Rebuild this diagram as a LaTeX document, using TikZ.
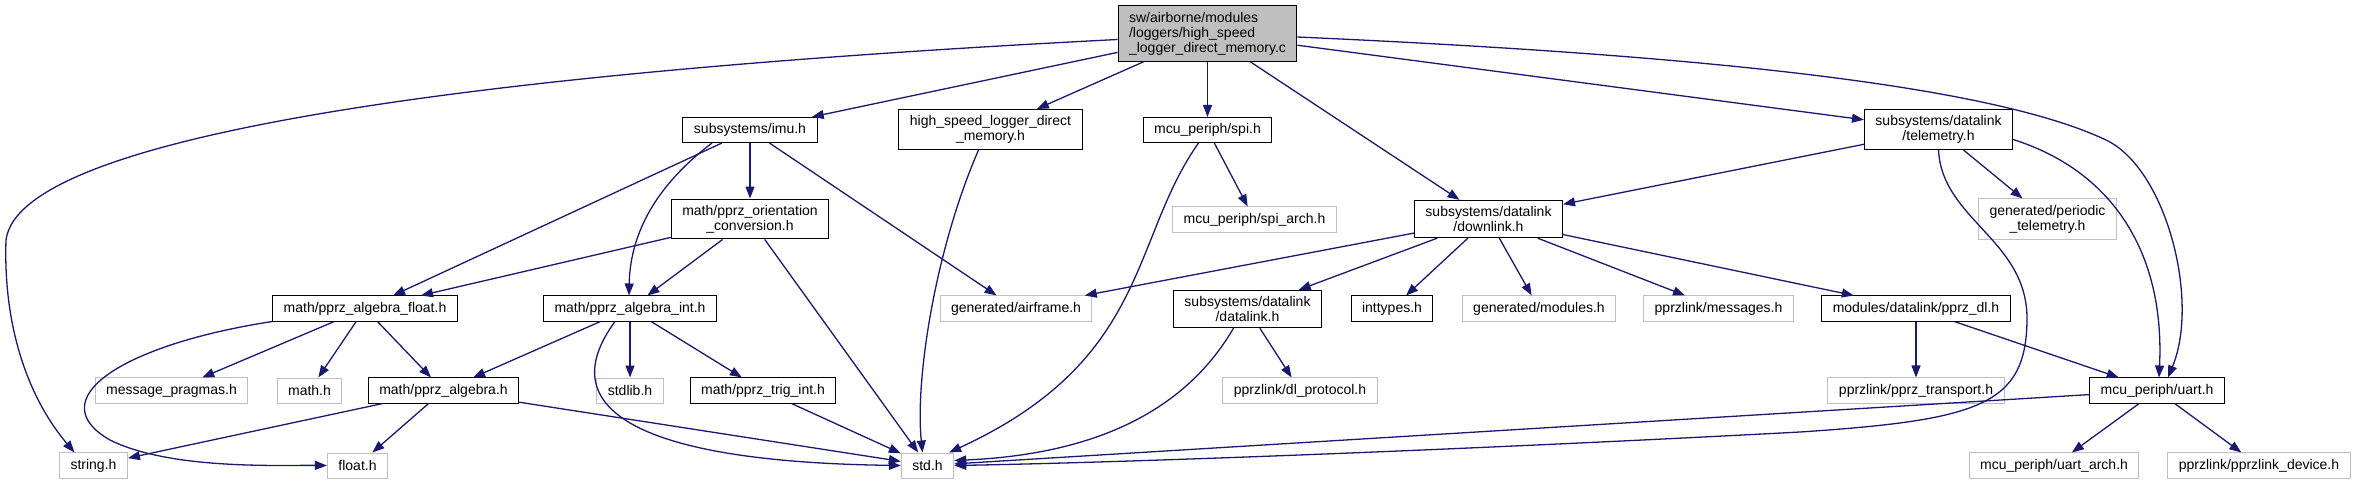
\documentclass[tikz,border=0pt]{standalone}
\usepackage{fontspec}
\setmainfont{Liberation Sans}
\usetikzlibrary{arrows.meta}
\definecolor{edgeblue}{HTML}{191970}
\definecolor{greyline}{HTML}{BFBFBF}
\begin{document}
\begin{tikzpicture}[x=1pt,y=-1pt,
  docbox/.style={draw=black,fill=white,line width=1pt,inner xsep=11pt,inner ysep=6pt,
    minimum height=25pt,align=center,font=\fontsize{14}{15}\selectfont},
  extbox/.style={docbox,draw=greyline},
  rootbox/.style={docbox,fill=greyline,align=left},
  dep/.style={draw=edgeblue,line width=1.3pt,-{Triangle[length=12pt,width=9pt]}}]
\useasboundingbox (0,0) rectangle (2356,484);
\node[rootbox] (root) at (1207.5,33.5) {sw/airborne/modules\\/loggers/high\_speed\\\_logger\_direct\_memory.c};
\node[docbox] (imu) at (750,130) {subsystems/imu.h};
\node[docbox] (hs) at (990.5,129.5) {high\_speed\_logger\_direct\\\_memory.h};
\node[docbox] (spi) at (1207.5,130) {mcu\_periph/spi.h};
\node[docbox] (tele) at (1938.5,129.5) {subsystems/datalink\\/telemetry.h};
\node[docbox] (orient) at (750,219) {math/pprz\_orientation\\\_conversion.h};
\node[extbox] (spiarch) at (1254.5,219.5) {mcu\_periph/spi\_arch.h};
\node[docbox] (downlink) at (1488.5,219) {subsystems/datalink\\/downlink.h};
\node[extbox] (periodic) at (2047.5,219) {generated/periodic\\\_telemetry.h};
\node[docbox] (algfloat) at (365,308.5) {math/pprz\_algebra\_float.h};
\node[docbox] (algint) at (630,308.5) {math/pprz\_algebra\_int.h};
\node[extbox] (airframe) at (1016,308.5) {generated/airframe.h};
\node[docbox] (datalink) at (1247.5,309) {subsystems/datalink\\/datalink.h};
\node[docbox] (inttypes) at (1392,308.5) {inttypes.h};
\node[extbox] (modules) at (1539,308.5) {generated/modules.h};
\node[extbox] (messages) at (1718.5,308.5) {pprzlink/messages.h};
\node[docbox] (pprzdl) at (1916,308.5) {modules/datalink/pprz\_dl.h};
\node[extbox] (pragmas) at (171.5,390.5) {message\_pragmas.h};
\node[extbox] (mathh) at (309.5,390.5) {math.h};
\node[docbox] (algebra) at (443.5,390.5) {math/pprz\_algebra.h};
\node[extbox] (stdlib) at (630,390.5) {stdlib.h};
\node[docbox] (trig) at (763,390.5) {math/pprz\_trig\_int.h};
\node[extbox] (dlproto) at (1300,390.5) {pprzlink/dl\_protocol.h};
\node[extbox] (ptrans) at (1916,390.5) {pprzlink/pprz\_transport.h};
\node[docbox] (uart) at (2157,390.5) {mcu\_periph/uart.h};
\node[extbox] (stringh) at (93.5,465.5) {string.h};
\node[extbox] (floath) at (357.5,465.5) {float.h};
\node[extbox] (stdh) at (927.5,465.5) {std.h};
\node[extbox] (uartarch) at (2054,465.5) {mcu\_periph/uart\_arch.h};
\node[extbox] (device) at (2259,465.5) {pprzlink/pprzlink\_device.h};
\foreach \a/\b in {root/imu,root/hs,root/spi,root/downlink,root/tele,
  imu/orient,imu/algfloat,imu/airframe,orient/algfloat,orient/algint,orient/stdh,
  spi/spiarch,tele/downlink,tele/periodic,downlink/airframe,downlink/datalink,
  downlink/inttypes,downlink/modules,downlink/messages,downlink/pprzdl,
  datalink/dlproto,pprzdl/ptrans,pprzdl/uart,uart/uartarch,uart/device,uart/stdh,
  algfloat/pragmas,algfloat/mathh,algfloat/algebra,algint/algebra,algint/stdlib,
  algint/trig,algebra/stringh,algebra/floath,algebra/stdh,trig/stdh}
  \draw[dep] (\a) -- (\b);
\draw[dep] ([yshift=-6pt]root.west) .. controls (520,70) and (20,130) .. (6,240)
  .. controls (3,330) and (30,400) .. ([xshift=-19pt]stringh.north);
\draw[dep] ([yshift=-3.5pt]root.east) .. controls (1700,55) and (1990,85) .. (2106,140)
  .. controls (2166,168.5) and (2200,300) .. ([xshift=11pt]uart.north);
\draw[dep] ([yshift=-10pt]tele.east) .. controls (2110,170) and (2165,250) .. ([xshift=2pt]uart.north);
\draw[dep] (tele.south) .. controls (1942,220) and (2028,240) .. (2027,320)
  .. controls (2026,405) and (1980,420) .. (1800,432)
  .. controls (1500,448) and (1150,462) .. (stdh.east);
\draw[dep] ([xshift=-38pt]imu.south) .. controls (650,190) and (630,240) .. ([xshift=-1pt]algint.north);
\draw[dep] ([xshift=-12pt]hs.south) .. controls (935,250) and (915,380) .. ([xshift=-5pt]stdh.north);
\draw[dep] ([xshift=-9pt]spi.south) .. controls (1130,240) and (1150,360) .. ([xshift=-5pt]stdh.north east);
\draw[dep] ([xshift=-14pt]datalink.south) .. controls (1180,420) and (1080,455) .. ([yshift=5pt]stdh.east);
\draw[dep] ([xshift=-15pt]algint.south) .. controls (550,410) and (640,462) .. (stdh.west);
\draw[dep] (algfloat.south west) .. controls (120,345) and (40,400) .. (110,440)
  .. controls (170,470) and (280,465) .. (floath.west);
\end{tikzpicture}
\end{document}
